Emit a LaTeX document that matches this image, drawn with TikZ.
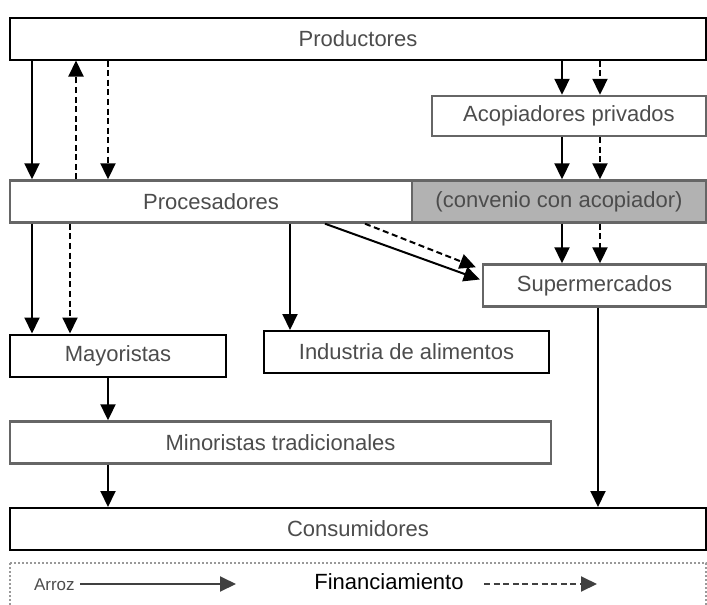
\documentclass[tikz,border=0pt]{standalone}
\usepackage{fontspec}
\setmainfont{Liberation Sans}
\usepackage{tikz}
\usetikzlibrary{positioning,arrows.meta}

\begin{document}
\begin{tikzpicture}[x=0.5pt, y=-0.5pt, line width=1pt,
    arr/.style={-{Triangle[width=7.5pt,length=8pt]}},
    box/.style={draw, rectangle, inner sep=0pt, minimum height=21pt, text=black!70, font=\fontsize{11}{13}\selectfont},
    greybox/.style={box, draw=black!60, line width=1.2pt},
    fin/.style={arr, dash pattern=on 3pt off 1.8pt}]
    \useasboundingbox (0,0) rectangle (707,605);

    % columns of the arrows
    \coordinate (c1) at (32,0);
    \coordinate (c2) at (76,0);
    \coordinate (c3) at (108,0);
    \coordinate (c4) at (70,0);
    \coordinate (c5) at (290,0);
    \coordinate (c6) at (325,0);
    \coordinate (c7) at (365,0);
    \coordinate (c8) at (562,0);
    \coordinate (c9) at (600,0);
    \coordinate (c10) at (598,0);

    \node [box, minimum width=348pt] (prod) at (358,38.5) {Productores};
    \node [greybox, minimum width=137pt, minimum height=20pt] (acop) at (569,116) {Acopiadores privados};
    \node [greybox, minimum width=201pt] (proc) at (211,201.5) {Procesadores};
    \node [greybox, fill=black!30, minimum width=147pt] (conv) at (559,201.5) {(convenio con acopiador)};
    \node [greybox, minimum width=111.5pt] (super) at (594.5,285.5) {Supermercados};
    \node [box, minimum width=108pt] (mayor) at (118,355.5) {Mayoristas};
    \node [box, minimum width=142.5pt] (indus) at (406.5,352) {Industria de alimentos};
    \node [greybox, minimum width=270.5pt] (minor) at (280.5,442.5) {Minoristas tradicionales};
    \node [box, minimum width=348pt] (cons) at (358,529) {Consumidores};

    % legend
    \draw [black!40, densely dotted] (10,563) rectangle (706,620);
    \node [anchor=west, inner sep=0pt, text=black!70, font=\fontsize{8.5}{10}\selectfont] (arroz) at (33,585) {Arroz};
    \node [font=\fontsize{11}{13}\selectfont] (finan) at (389,582) {Financiamiento};
    \coordinate (a1) at (80,584);
    \coordinate (a2) at (236,584);
    \coordinate (f1) at (484,584);
    \coordinate (f2) at (597,584);
    \draw [arr, black!75] (a1) -- (a2);
    \draw [fin, black!75] (f1) -- (f2);

    \draw [arr] (prod.south -| c1) -- (proc.north -| c1);
    \draw [fin] (proc.north -| c2) -- (prod.south -| c2);
    \draw [fin] (prod.south -| c3) -- (proc.north -| c3);
    \draw [arr] (prod.south -| c8) -- (acop.north -| c8);
    \draw [fin] (prod.south -| c9) -- (acop.north -| c9);
    \draw [arr] (acop.south -| c8) -- (conv.north -| c8);
    \draw [fin] (acop.south -| c9) -- (conv.north -| c9);
    \draw [arr] (conv.south -| c8) -- (super.north -| c8);
    \draw [fin] (conv.south -| c9) -- (super.north -| c9);

    \draw [arr] (proc.south -| c1) -- (mayor.north -| c1);
    \draw [fin] (proc.south -| c4) -- (mayor.north -| c4);
    \draw [arr] (proc.south -| c5) -- (indus.north -| c5);
    \draw [arr] (proc.south -| c6) -- ([xshift=-1pt, yshift=3pt]super.west);
    \draw [fin] (proc.south -| c7) -- ([xshift=-3pt, yshift=-2pt]super.north west);

    \draw [arr] (mayor.south -| c3) -- (minor.north -| c3);
    \draw [arr] (minor.south -| c3) -- (cons.north -| c3);
    \draw [arr] (super.south -| c10) -- (cons.north -| c10);
\end{tikzpicture}
\end{document}
